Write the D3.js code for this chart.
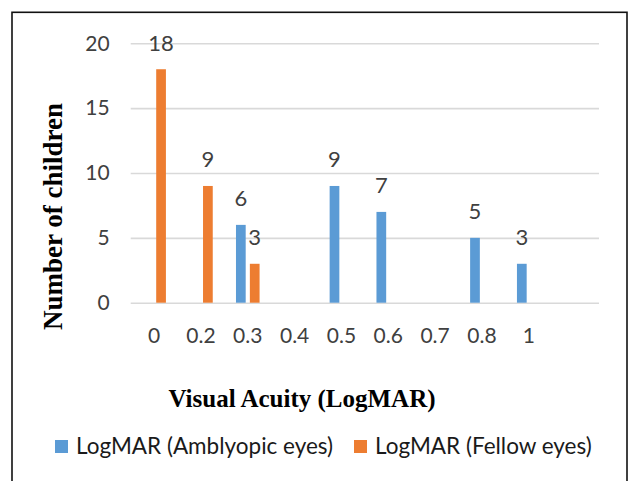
<!DOCTYPE html>
<html>
<head>
<meta charset="utf-8">
<script src="https://d3js.org/d3.v7.min.js"></script>
<style>
  body { margin: 0; background: #fff; }
</style>
</head>
<body>
<div id="my_dataviz"></div>

<script>

// values (blank cells = null)
var categories = ["0", "0.2", "0.3", "0.4", "0.5", "0.6", "0.7", "0.8", "1", ""];
var amblyopic = [null, null, 6, null, 9, 7, null, 5, 3, null];
var fellow = [18, 9, 3, null, null, null, null, null, null, null];
var seriesNames = ["LogMAR (Amblyopic eyes)", "LogMAR (Fellow eyes)"];
var yTicks = [0, 5, 10, 15, 20];

var W = 629, H = 481;
var plot = {left: 130.7, right: 599, top: 43.3, bottom: 302.7};
var colors = ["#5b9bd5", "#ed7d31"];
var sans = "Lato, 'Open Sans', sans-serif";
var serif = "'Liberation Serif', 'Times New Roman', serif";

var svg = d3.select("#my_dataviz")
  .append("svg")
    .attr("width", W)
    .attr("height", H);

// outer frame (bottom edge runs off the picture)
svg.append("rect")
  .attr("x", 12)
  .attr("y", 12.3)
  .attr("width", 615)
  .attr("height", 500)
  .attr("fill", "none")
  .attr("stroke", "#111")
  .attr("stroke-width", 1.6);

var x = d3.scaleBand()
  .domain(categories)
  .range([plot.left, plot.right]);

var x1 = d3.scaleBand()
  .domain(seriesNames)
  .range([-11.8, 11.8])
  .paddingInner(0.3);

var y = d3.scaleLinear()
  .domain([0, 20])
  .range([plot.bottom, plot.top]);

// y axis with gridlines
var yAxis = svg.append("g")
  .attr("transform", "translate(" + plot.left + ",0)")
  .call(d3.axisLeft(y).tickValues(yTicks).tickSize(-(plot.right - plot.left)).tickPadding(21));
yAxis.select(".domain").remove();
yAxis.selectAll("line")
  .attr("stroke", "#d9d9d9")
  .attr("stroke-width", 1.6);
yAxis.selectAll("text")
  .attr("fill", "#404040")
  .style("font-family", sans)
  .style("font-size", "21px");

// x axis labels
var xAxis = svg.append("g")
  .attr("transform", "translate(0," + plot.bottom + ")")
  .call(d3.axisBottom(x).tickSize(0).tickPadding(25));
xAxis.select(".domain").remove();
xAxis.selectAll("text")
  .attr("fill", "#404040")
  .style("font-family", sans)
  .style("font-size", "21px");

// bars + data labels
var rows = [];
categories.forEach(function(c, i) {
  rows.push({cat: c, name: seriesNames[0], value: amblyopic[i], color: colors[0]});
  rows.push({cat: c, name: seriesNames[1], value: fellow[i], color: colors[1]});
});
rows = rows.filter(function(d) { return d.value != null; });

svg.selectAll("rect.bar")
  .data(rows)
  .enter()
  .append("rect")
    .attr("class", "bar")
    .attr("x", function(d) { return x(d.cat) + x.bandwidth() / 2 + x1(d.name); })
    .attr("width", x1.bandwidth())
    .attr("y", function(d) { return y(d.value); })
    .attr("height", function(d) { return y(0) - y(d.value); })
    .attr("fill", function(d) { return d.color; });

svg.selectAll("text.lbl")
  .data(rows)
  .enter()
  .append("text")
    .attr("class", "lbl")
    .attr("x", function(d) { return x(d.cat) + x.bandwidth() / 2 + x1(d.name) + x1.bandwidth() / 2; })
    .attr("y", function(d) { return y(d.value) - 18.5; })
    .attr("text-anchor", "middle")
    .attr("fill", "#404040")
    .style("font-family", sans)
    .style("font-size", "22px")
    .text(function(d) { return d.value; });

// axis titles
svg.append("text")
  .attr("transform", "translate(62,216.5) rotate(-90)")
  .attr("text-anchor", "middle")
  .attr("fill", "#000")
  .style("font-family", serif)
  .style("font-weight", "bold")
  .style("font-size", "27px")
  .text("Number of children");

svg.append("text")
  .attr("x", 302)
  .attr("y", 406.7)
  .attr("text-anchor", "middle")
  .attr("fill", "#000")
  .style("font-family", serif)
  .style("font-weight", "bold")
  .style("font-size", "25px")
  .text("Visual Acuity (LogMAR)");

// legend
var legendX = [55, 354];
var legend = svg.selectAll("g.legend")
  .data(seriesNames)
  .enter()
  .append("g")
    .attr("class", "legend")
    .attr("transform", function(d, i) { return "translate(" + legendX[i] + ",440)"; });
legend.append("rect")
  .attr("width", 13)
  .attr("height", 13)
  .attr("fill", function(d, i) { return colors[i]; });
legend.append("text")
  .attr("x", 21)
  .attr("y", 13.5)
  .attr("fill", "#1a1a1a")
  .style("font-family", sans)
  .style("font-size", "22.5px")
  .text(function(d) { return d; });

</script>
</body>
</html>
